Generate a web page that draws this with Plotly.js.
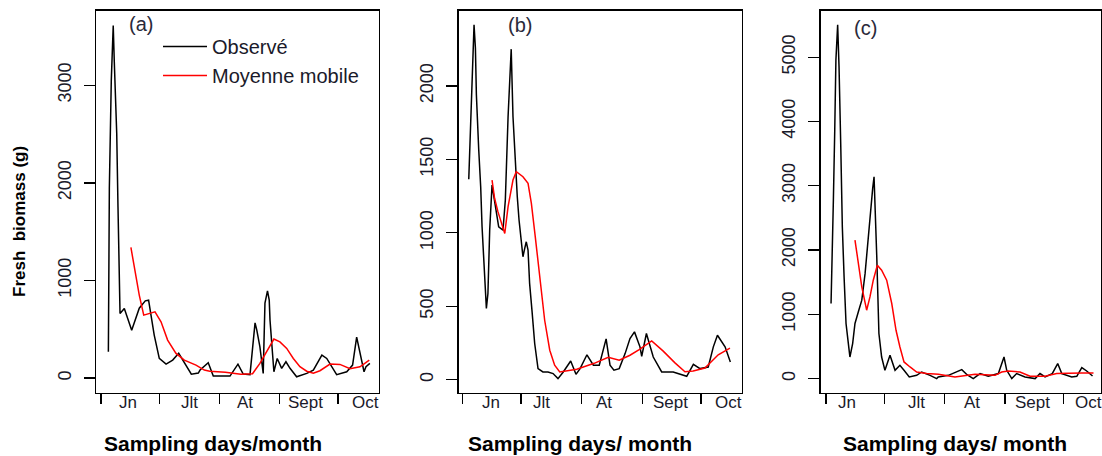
<!DOCTYPE html>
<html>
<head>
<meta charset="utf-8">
<script src="https://cdn.plot.ly/plotly-3.0.1.min.js"></script>
<style>html,body{margin:0;padding:0;background:#fff;}#chart{width:1102px;height:456px;}</style>
</head>
<body>
<div id="chart"></div>
<script>
// ---- Data (day index from 1 June, fresh biomass in g) ----
const monthLabels = ["Jn", "Jlt", "At", "Sept", "Oct"];
const monthStarts = [0, 30, 61, 92, 122];

// Panel (a)
const aObsDays = [3.8,3.9,4.3,5.3,6.3,6.85,8.1,8.75,9.4,9.8,12,15.8,19.7,22.8,24.5,27.4,30,33.5,36.9,40,46.5,50.1,51,55.2,57.8,62,66.4,70.5,73.2,76.7,79.3,80.2,81.8,83.5,84.4,85.7,86.6,87,89,90.7,93,95.2,97.3,100.7,105.9,109.3,113.7,116.2,121.3,126.5,129.5,131.6,133,135.4,136.4,138.4];
const aObs = [269,816,1942,3050,3613,3238,2505,1754,1037,662,713,491,716,791,798,440,201,143,184,253,40,51,82,157,20,20,20,143,41,35,566,491,320,48,768,894,798,594,65,201,99,167,100,13,48,82,235,201,35,65,133,420,287,65,116,150];
const aMaDays = [15.4,19.7,22,24.9,27.8,30.9,34.3,38.6,42.9,48.9,53.2,56,64,72,78,81.8,86,89,92.1,95.6,99,102.4,105.9,109.3,112.7,117.9,123,128.2,133.3,138.1];
const aMa = [1338,850,645,662,679,576,389,253,184,133,82,70,60,40,45,150,300,400,370,304,201,116,70,50,75,143,140,95,116,184];

// Panel (b)
const bObsDays = [3.3,3.8,4.6,5.5,6,6.7,7.2,8.4,9.4,10.1,11.1,11.8,12.3,13.1,14,15.2,16.2,17.4,18.6,20.8,22,23.4,24.2,25,25.9,27.1,28.1,29,30.2,31,31.9,32.7,33.6,34.4,35.6,37,38.7,41.2,43.8,46.4,48.9,51.6,55.4,58.1,60.2,63.7,67,70,73.5,75.5,77.5,80.2,83.2,85.7,88,90.8,91.7,94.1,97.6,101.9,107.8,114.7,118.1,121.5,125.7,128.3,130.4,134.3,137];
const bObs = [1364,1541,1905,2245,2416,2257,1939,1564,1314,1041,814,610,485,587,1019,1325,1246,1155,1041,1019,1223,1791,2087,2250,1791,1450,1246,1087,928,837,894,939,882,656,474,247,76,53,53,42,8,53,128,37,76,170,99,99,278,100,65,76,178,281,326,224,160,315,155,53,53,24,105,76,87,224,303,224,121];
const bMaDays = [15.2,16.5,18.2,20.3,21.7,23.4,25.9,27.6,31,33.6,35.3,37.3,39.6,42.1,44.7,47.2,49.8,54,58.5,67.4,74.6,80.2,85.7,90.4,96.8,102.7,108.7,113.8,118,124,130.8,136.8];
const bMa = [1359,1235,1144,1064,996,1178,1359,1416,1382,1337,1201,973,701,405,201,99,53,60,72,112,153,133,167,205,264,195,115,55,60,80,170,215];

// Panel (c)
const cObsDays = [2.6,2.9,3.8,4.5,5.1,6,6.7,7.6,8.4,9.3,10.3,11.5,12.3,13.7,14.9,16.6,18.4,20.1,21.7,23,24,24.7,25.2,26.1,27.2,28.6,30.3,32.9,35.5,38,40.1,42.8,46.6,49.2,53.5,56.9,57.7,62.9,69.8,72.5,75.7,79.2,83.4,88.6,91.5,92.9,95.5,98,102.3,107.5,110,112.6,116.3,119.1,121.2,126.3,128.9,131.5,134,137];
const cObs = [1168,1713,2777,3868,4958,5503,4854,3607,2361,1583,857,545,336,545,857,1037,1220,1636,2206,2673,2960,3140,2726,1894,701,336,129,363,129,207,129,25,51,103,51,0,25,51,140,60,0,78,36,78,336,129,0,78,25,0,78,25,78,234,78,25,36,171,118,40];
const cMaDays = [14.9,16.6,18.4,20.9,22.6,24.3,26.4,28.6,31.2,33.8,36,38,40.1,43.2,46.6,51.8,57.8,66.3,76.6,86.9,90.3,93.7,99.7,104.9,112.6,118.6,124.6,131.5,137.5];
const cMa = [2154,1791,1427,1064,1271,1531,1765,1687,1531,1168,752,492,259,181,103,78,67,25,67,51,103,118,103,36,36,78,87,87,87];

// month label positions (day) per panel
const aLabelPos = [13.9, 45.3, 74.1, 105.5, 135.9];
const bLabelPos = [14.7, 40.6, 72.4, 106.2, 135.8];
const cLabelPos = [10.6, 46.6, 74.9, 106.4, 134.7];

// ---- Figure ----
const W = 1102, H = 456;
const px = v => v / W;
const py = v => 1 - v / H;

const blk = {color: '#000000', width: 1.5};
const red = {color: '#ff0000', width: 1.5};

const traces = [
  {x: aObsDays, y: aObs, type: 'scatter', mode: 'lines', line: blk, name: 'Observé', xaxis: 'x', yaxis: 'y', showlegend: true},
  {x: aMaDays, y: aMa, type: 'scatter', mode: 'lines', line: red, name: 'Moyenne mobile', xaxis: 'x', yaxis: 'y', showlegend: true},
  {x: bObsDays, y: bObs, type: 'scatter', mode: 'lines', line: blk, name: 'Observé', xaxis: 'x2', yaxis: 'y2', showlegend: false},
  {x: bMaDays, y: bMa, type: 'scatter', mode: 'lines', line: red, name: 'Moyenne mobile', xaxis: 'x2', yaxis: 'y2', showlegend: false},
  {x: cObsDays, y: cObs, type: 'scatter', mode: 'lines', line: blk, name: 'Observé', xaxis: 'x3', yaxis: 'y3', showlegend: false},
  {x: cMaDays, y: cMa, type: 'scatter', mode: 'lines', line: red, name: 'Moyenne mobile', xaxis: 'x3', yaxis: 'y3', showlegend: false}
];

const tickFont = {family: 'Liberation Sans, Arial, sans-serif', size: 18, color: '#1a1a2a'};
function xax(d0, d1, range, anchor) {
  return {domain: [px(d0), px(d1)], range: range, anchor: anchor,
    tickvals: monthStarts, ticks: 'outside', ticklen: 10, tickwidth: 1.3, tickcolor: '#000',
    showticklabels: false, showline: true, mirror: true, linecolor: '#000', linewidth: 1.3,
    showgrid: false, zeroline: false, fixedrange: true};
}
function yax(range, tickvals, anchor) {
  return {domain: [py(393), py(10.5)], range: range, anchor: anchor,
    tickvals: tickvals, ticktext: tickvals.map(String), ticks: 'outside', ticklen: 11, tickwidth: 1.3, tickcolor: '#000',
    tickangle: -90, tickfont: tickFont, ticklabelstandoff: 6,
    showline: true, mirror: true, linecolor: '#000', linewidth: 1.3,
    showgrid: false, zeroline: false, fixedrange: true};
}

const annotations = [];
function monthAnn(xref, pos) {
  monthLabels.forEach((t, i) => annotations.push({
    xref: xref, yref: 'paper', x: pos[i], y: py(402), text: t, showarrow: false,
    xanchor: 'center', yanchor: 'middle', font: {family: 'Liberation Sans, Arial, sans-serif', size: 17, color: '#1a1a2a'}
  }));
}
monthAnn('x', aLabelPos);
monthAnn('x2', bLabelPos);
monthAnn('x3', cLabelPos);

const panelFont = {family: 'Liberation Sans, Arial, sans-serif', size: 20, color: '#2a2a3a'};
annotations.push({xref: 'paper', yref: 'paper', x: px(141), y: py(24), text: '(a)', showarrow: false, xanchor: 'center', yanchor: 'middle', font: panelFont});
annotations.push({xref: 'paper', yref: 'paper', x: px(520), y: py(25), text: '(b)', showarrow: false, xanchor: 'center', yanchor: 'middle', font: panelFont});
annotations.push({xref: 'paper', yref: 'paper', x: px(865), y: py(28), text: '(c)', showarrow: false, xanchor: 'center', yanchor: 'middle', font: panelFont});

const titleFont = {family: 'Liberation Sans, Arial, sans-serif', size: 21, color: '#000'};
annotations.push({xref: 'paper', yref: 'paper', x: px(213), y: py(443), text: '<b>Sampling days/month</b>', showarrow: false, xanchor: 'center', yanchor: 'middle', font: titleFont});
annotations.push({xref: 'paper', yref: 'paper', x: px(580), y: py(443), text: '<b>Sampling days/ month</b>', showarrow: false, xanchor: 'center', yanchor: 'middle', font: titleFont});
annotations.push({xref: 'paper', yref: 'paper', x: px(955), y: py(443), text: '<b>Sampling days/ month</b>', showarrow: false, xanchor: 'center', yanchor: 'middle', font: titleFont});
annotations.push({xref: 'paper', yref: 'paper', x: px(19), y: py(222), text: '<b>Fresh  biomass (g)</b>', textangle: -90, showarrow: false, xanchor: 'center', yanchor: 'middle', font: {family: 'Liberation Sans, Arial, sans-serif', size: 17, color: '#000'}});

const layout = {
  width: W, height: H,
  margin: {l: 0, r: 0, t: 0, b: 0},
  paper_bgcolor: '#ffffff', plot_bgcolor: '#ffffff',
  showlegend: true,
  legend: {x: px(158), y: py(27), xanchor: 'left', yanchor: 'top', bgcolor: 'rgba(0,0,0,0)',
    font: {family: 'Liberation Sans, Arial, sans-serif', size: 20, color: '#1a1a2a'},
    traceorder: 'normal', itemwidth: 44, tracegroupgap: 0},
  xaxis: xax(96, 379, [-2.57, 143.1], 'y'),
  yaxis: yax([-153, 3766], [0, 1000, 2000, 3000], 'x'),
  xaxis2: xax(458.7, 741.7, [-1.84, 142.8], 'y2'),
  yaxis2: yax([-90, 2513], [0, 500, 1000, 1500, 2000], 'x2'),
  xaxis3: xax(820.7, 1100.5, [-2.72, 141.1], 'y3'),
  yaxis3: yax([-224, 5726], [0, 1000, 2000, 3000, 4000, 5000], 'x3'),
  annotations: annotations
};

Plotly.newPlot('chart', traces, layout, {staticPlot: true, displayModeBar: false});
</script>
</body>
</html>
